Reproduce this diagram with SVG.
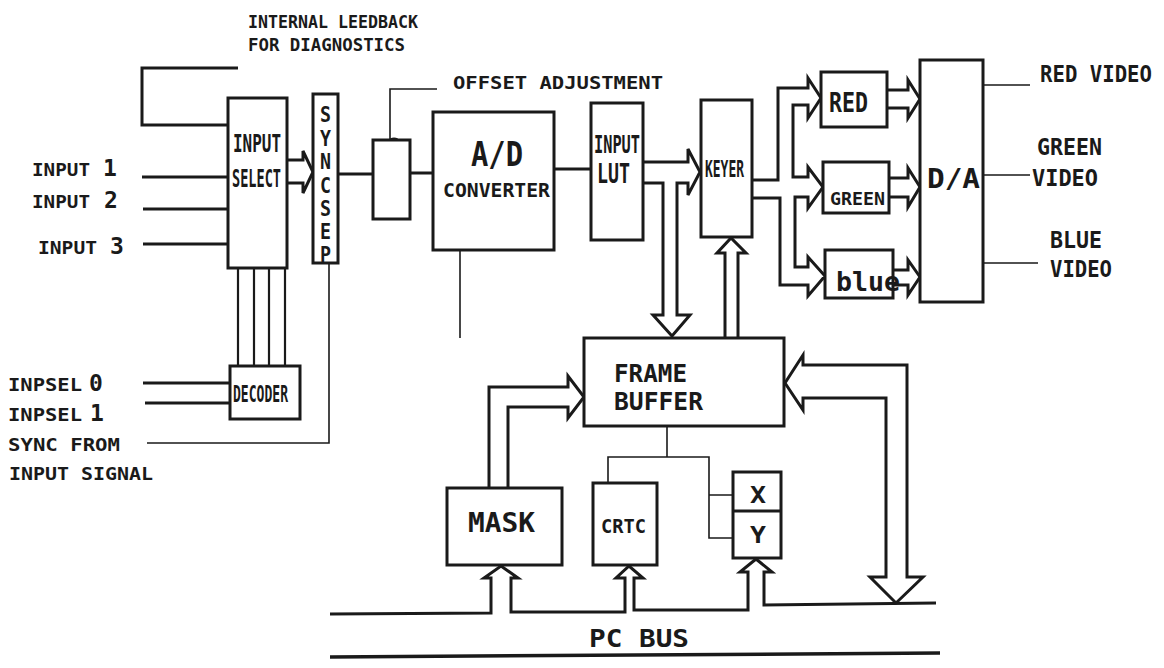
<svg xmlns="http://www.w3.org/2000/svg" width="1164" height="668" viewBox="0 0 1164 668">
<style>
.bx{fill:#fff;stroke:#1a1a1a;stroke-width:3}
.c{fill:none;stroke:#1a1a1a;stroke-width:3;stroke-linejoin:miter}
.th{fill:none;stroke:#1a1a1a;stroke-width:1.6}
.m{fill:none;stroke:#1a1a1a;stroke-width:2.2}
.t{font-family:"DejaVu Sans Mono","Liberation Mono",monospace;font-weight:bold;fill:#1a1a1a}
</style>
<defs>
<marker id="dot" viewBox="0 0 6 10" refX="3" refY="9" markerWidth="6" markerHeight="10" markerUnits="userSpaceOnUse" orient="auto-start-reverse">
<ellipse cx="3" cy="5" rx="2.5" ry="4.5" fill="#1a1a1a"/>
</marker>
</defs>
<rect width="1164" height="668" fill="#fff"/>

<g id="connectors">
<!-- feedback loop -->
<path class="c" d="M238,68 L142,68 L142,125 L228,125"/>
<!-- inputs -->
<path class="c" d="M142,177 L228,177 M143,209 L228,209 M143,244 L228,244"/>
<!-- input select -> sync sep -->
<path class="c" d="M288,160 L303,160 L303,151 L313,172 L303,193 L303,183 L288,183"/>
<!-- decoder lines -->
<path class="m" d="M238,268 L238,366 M254,268 L254,366 M269,268 L269,366 M285,268 L285,366"/>
<path class="c" d="M143,383 L230,383 M145,403 L230,403"/>
<!-- sync from input signal -->
<path class="th" d="M329,263 L329,443 L147,443"/>
<!-- sync sep -> offset -> A/D -> LUT -->
<path class="c" d="M338,174 L373,174 M410,173 L433,173 M554,169 L591,169"/>
<!-- offset adjustment -->
<path class="th" d="M437,89 L390,89 L390,140" marker-end="url(#dot)"/>
<!-- A/D down -->
<path class="th" d="M460,250 L460,338"/>
<!-- LUT -> keyer and frame buffer -->
<path class="c" d="M643,162 L688,162 L688,149 L700,172 L688,195 L688,183 L677,183 L677,315 L690,315 L672,336 L653,315 L663,315 L663,183 L643,183"/>
<!-- frame buffer -> keyer -->
<path class="c" d="M725,337 L725,253 L717,253 L731,238 L746,253 L738,253 L738,337"/>
<!-- keyer -> RED/GREEN/blue -->
<path class="c" d="M752,180 L778,180 L778,88 L808,88 L808,78 L821,98 L808,118 L808,105 L793,105 L793,177 L808,177 L808,167 L823,187 L808,208 L808,197 L795,197 L795,267 L808,267 L808,257 L825,276 L808,296 L808,285 L780,285 L780,198 L752,198"/>
<!-- RED/GREEN/blue -> D/A -->
<path class="c" d="M887,90 L908,90 L908,80 L920,99 L908,118 L908,108 L887,108"/>
<path class="c" d="M889,178 L908,178 L908,168 L920,187 L908,207 L908,197 L889,197"/>
<path class="c" d="M893,270 L908,270 L908,260 L920,277 L908,295 L908,285 L893,285"/>
<!-- D/A outputs -->
<path class="th" d="M983,85 L1030,85 M983,175 L1030,175 M983,263 L1038,263"/>
<!-- mask -> frame buffer -->
<path class="c" d="M489,488 L489,387 L568,387 L568,376 L584,397 L568,418 L568,407 L508,407 L508,488"/>
<!-- frame buffer <-> PC bus -->
<path class="c" d="M803,365 L907,365 L907,577 L923,577 L896,603 L870,577 L886,577 L886,398 L803,398 L803,410 L785,383 L803,355 Z"/>
<!-- frame buffer -> CRTC / X / Y -->
<path class="th" d="M667,426 L667,457 M608,483 L608,457 L709,457 L709,538 L733,538 M709,495 L733,495"/>
<!-- PC bus with up arrows -->
<path class="c" d="M330,614 L491,613 L491,578 L484,578 L501,566 L518,578 L511,578 L511,612 L625,612 L625,578 L616,578 L629,566 L643,578 L634,578 L634,610 L748,610 L748,572 L740,572 L756,559 L772,572 L764,572 L764,605 L936,603"/>
<path class="c" style="stroke-width:3.5" d="M330,657 L940,653"/>
</g>

<g id="input_select">
<rect class="bx" x="228" y="98" width="59" height="170"/>
<text class="t" font-size="24" y="152"><tspan x="233" textLength="48" lengthAdjust="spacingAndGlyphs">INPUT</tspan></text>
<text class="t" font-size="24" y="187"><tspan x="232" textLength="49" lengthAdjust="spacingAndGlyphs">SELECT</tspan></text>
</g>

<g id="sync_sep">
<rect class="bx" x="313" y="94" width="25" height="169"/>
<text class="t" font-size="22"><tspan x="320" y="122" textLength="11" lengthAdjust="spacingAndGlyphs">S</tspan><tspan x="320" y="146" textLength="11" lengthAdjust="spacingAndGlyphs">Y</tspan><tspan x="320" y="169" textLength="11" lengthAdjust="spacingAndGlyphs">N</tspan><tspan x="320" y="193" textLength="11" lengthAdjust="spacingAndGlyphs">C</tspan><tspan x="320" y="216" textLength="11" lengthAdjust="spacingAndGlyphs">S</tspan><tspan x="320" y="239" textLength="11" lengthAdjust="spacingAndGlyphs">E</tspan><tspan x="320" y="262" textLength="11" lengthAdjust="spacingAndGlyphs">P</tspan></text>
</g>

<g id="offset">
<rect class="bx" x="373" y="140" width="37" height="79"/>
</g>

<g id="ad_converter">
<rect class="bx" x="433" y="112" width="121" height="138"/>
<text class="t" font-size="34" x="471" y="166" textLength="52" lengthAdjust="spacingAndGlyphs">A/D</text>
<text class="t" font-size="20" x="443" y="197" textLength="107" lengthAdjust="spacingAndGlyphs">CONVERTER</text>
</g>

<g id="input_lut">
<rect class="bx" x="591" y="103" width="52" height="137"/>
<text class="t" font-size="24" x="594" y="153" textLength="46" lengthAdjust="spacingAndGlyphs">INPUT</text>
<text class="t" font-size="27" x="597" y="183" textLength="33" lengthAdjust="spacingAndGlyphs">LUT</text>
</g>

<g id="keyer">
<rect class="bx" x="701" y="100" width="51" height="137"/>
<text class="t" font-size="23" x="705" y="177" textLength="39" lengthAdjust="spacingAndGlyphs">KEYER</text>
</g>

<g id="red">
<rect class="bx" x="821" y="72" width="66" height="55"/>
<text class="t" font-size="26" x="829" y="112" textLength="39" lengthAdjust="spacingAndGlyphs">RED</text>
</g>

<g id="green">
<rect class="bx" x="823" y="162" width="66" height="51"/>
<text class="t" font-size="18" x="830" y="205" textLength="55" lengthAdjust="spacingAndGlyphs">GREEN</text>
</g>

<g id="blue">
<rect class="bx" x="825" y="250" width="68" height="48"/>
<text class="t" font-size="27" x="836" y="291" textLength="64" lengthAdjust="spacingAndGlyphs">blue</text>
</g>

<g id="da">
<rect class="bx" x="920" y="60" width="63" height="242"/>
<text class="t" font-size="27" x="927" y="188" textLength="53" lengthAdjust="spacingAndGlyphs">D/A</text>
</g>

<g id="decoder">
<rect class="bx" x="230" y="366" width="70" height="53"/>
<text class="t" font-size="23" x="233" y="402" textLength="55" lengthAdjust="spacingAndGlyphs">DECODER</text>
</g>

<g id="frame_buffer">
<rect class="bx" x="584" y="338" width="200" height="88"/>
<text class="t" font-size="25" x="614" y="382" textLength="73" lengthAdjust="spacingAndGlyphs">FRAME</text>
<text class="t" font-size="25" x="614" y="410" textLength="89" lengthAdjust="spacingAndGlyphs">BUFFER</text>
</g>

<g id="mask">
<rect class="bx" x="447" y="488" width="115" height="77"/>
<text class="t" font-size="27" x="468" y="532" textLength="67" lengthAdjust="spacingAndGlyphs">MASK</text>
</g>

<g id="crtc">
<rect class="bx" x="593" y="483" width="64" height="82"/>
<text class="t" font-size="20" x="601" y="533" textLength="45" lengthAdjust="spacingAndGlyphs">CRTC</text>
</g>

<g id="xy">
<rect class="bx" x="733" y="472" width="48" height="86"/>
<path class="c" d="M733,511 L781,511"/>
<text class="t" font-size="23" x="750" y="503" textLength="16" lengthAdjust="spacingAndGlyphs">X</text>
<text class="t" font-size="23" x="750" y="543" textLength="16" lengthAdjust="spacingAndGlyphs">Y</text>
</g>

<g id="labels">
<text class="t" font-size="18" x="248" y="28" textLength="170" lengthAdjust="spacingAndGlyphs">INTERNAL LEEDBACK</text>
<text class="t" font-size="18" x="248" y="51" textLength="157" lengthAdjust="spacingAndGlyphs">FOR DIAGNOSTICS</text>
<text class="t" font-size="18" x="453" y="89" textLength="210" lengthAdjust="spacingAndGlyphs">OFFSET  ADJUSTMENT</text>
<text class="t" font-size="18" y="176"><tspan x="32" textLength="58" lengthAdjust="spacingAndGlyphs">INPUT</tspan> <tspan x="103" font-size="23">1</tspan></text>
<text class="t" font-size="18" y="208"><tspan x="32" textLength="58" lengthAdjust="spacingAndGlyphs">INPUT</tspan> <tspan x="104" font-size="23">2</tspan></text>
<text class="t" font-size="18" y="254"><tspan x="38" textLength="59" lengthAdjust="spacingAndGlyphs">INPUT</tspan> <tspan x="110" font-size="23">3</tspan></text>
<text class="t" font-size="18" y="391"><tspan x="8" textLength="74" lengthAdjust="spacingAndGlyphs">INPSEL</tspan> <tspan x="89" font-size="23">0</tspan></text>
<text class="t" font-size="18" y="421"><tspan x="8" textLength="74" lengthAdjust="spacingAndGlyphs">INPSEL</tspan> <tspan x="90" font-size="23">1</tspan></text>
<text class="t" font-size="18" x="8" y="451" textLength="112" lengthAdjust="spacingAndGlyphs">SYNC FROM</text>
<text class="t" font-size="18" x="9" y="480" textLength="144" lengthAdjust="spacingAndGlyphs">INPUT SIGNAL</text>
<text class="t" font-size="23" x="1040" y="82" textLength="112" lengthAdjust="spacingAndGlyphs">RED VIDEO</text>
<text class="t" font-size="23" x="1037" y="155" textLength="65" lengthAdjust="spacingAndGlyphs">GREEN</text>
<text class="t" font-size="23" x="1032" y="186" textLength="66" lengthAdjust="spacingAndGlyphs">VIDEO</text>
<text class="t" font-size="23" x="1050" y="248" textLength="52" lengthAdjust="spacingAndGlyphs">BLUE</text>
<text class="t" font-size="23" x="1050" y="277" textLength="62" lengthAdjust="spacingAndGlyphs">VIDEO</text>
<text class="t" font-size="25" x="589" y="647" textLength="100" lengthAdjust="spacingAndGlyphs">PC BUS</text>
</g>
</svg>
